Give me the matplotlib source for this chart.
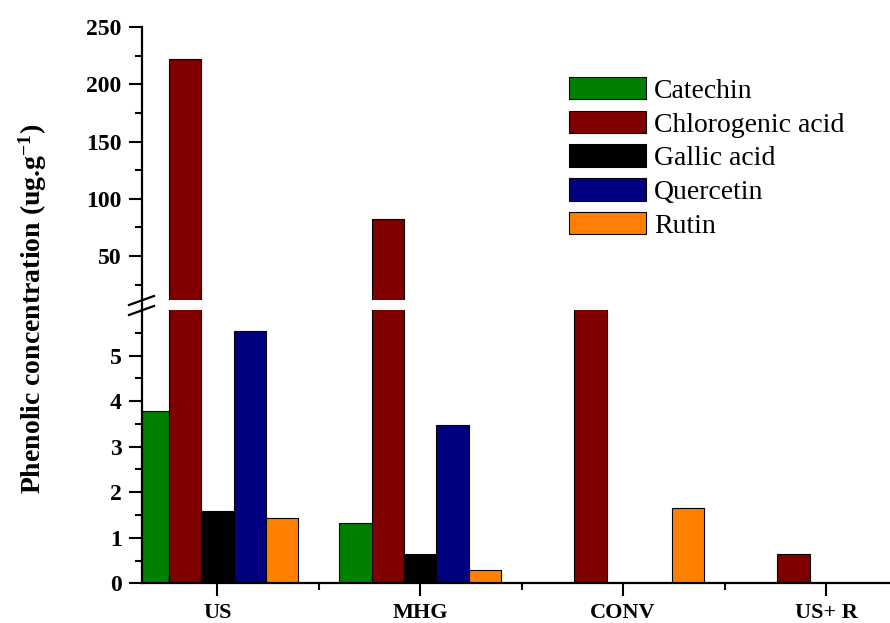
import matplotlib
matplotlib.use("Agg")
import matplotlib.pyplot as plt
import numpy as np
from matplotlib.lines import Line2D

categories = ["US", "MHG", "CONV", "US+ R"]
series_names = ["Catechin", "Chlorogenic acid", "Gallic acid", "Quercetin", "Rutin"]
catechin = [3.79, 1.33, 0.0, 0.0]
chlorogenic = [222.5, 82.0, 8.0, 0.64]
gallic = [1.59, 0.64, 0.0, 0.0]
quercetin = [5.54, 3.48, 0.0, 0.0]
rutin = [1.44, 0.29, 1.65, 0.0]
colors = ["#008000", "#800000", "#000000", "#000080", "#FF8000"]

series = [catechin, chlorogenic, gallic, quercetin, rutin]

plt.rcParams['font.family'] = ['Liberation Serif', 'DejaVu Serif']
plt.rcParams['mathtext.fontset'] = 'custom'
plt.rcParams['mathtext.rm'] = 'Liberation Serif'
plt.rcParams['mathtext.bf'] = 'Liberation Serif:bold'
plt.rcParams['mathtext.default'] = 'regular'

W, H = 890, 623
fig = plt.figure(figsize=(W / 100, H / 100), dpi=100)

def fx(px):
    return px / W

def fy(py):
    return 1 - py / H

x_left, x_right = 141.7, 890
ax_lo = fig.add_axes([fx(x_left), fy(583.3), fx(x_right - x_left), fy(310) - fy(583.3)])
ax_hi = fig.add_axes([fx(x_left), fy(300), fx(x_right - x_left), fy(27) - fy(300)])

x = np.arange(len(categories))
bw = 0.16
for i, (name, vals, c) in enumerate(zip(series_names, series, colors)):
    offs = (i - 2) * bw
    for ax in (ax_lo, ax_hi):
        ax.bar(x + offs, vals, width=bw, color=c, edgecolor="black", linewidth=0.8,
               label=name if ax is ax_hi else None)

for ax in (ax_lo, ax_hi):
    ax.set_xlim(-0.3726, 3.315)
    for s in ("top", "right"):
        ax.spines[s].set_visible(False)
    ax.spines["left"].set_linewidth(1.6)
    ax.spines["bottom"].set_linewidth(1.6)
    ax.tick_params(axis="both", which="major", direction="out", length=9.4, width=1.5,
                   labelsize=17, pad=5)
    ax.tick_params(axis="both", which="minor", direction="out", length=4.8, width=1.5)

# lower axis
ax_lo.set_ylim(0, 6)
ax_lo.set_yticks([0, 1, 2, 3, 4, 5])
ax_lo.set_yticks(np.arange(0.5, 6.0, 0.5), minor=True)
ax_lo.set_xticks(x)
ax_lo.set_xticklabels(categories)
ax_lo.set_xticks([0.5, 1.5, 2.5], minor=True)
ax_lo.tick_params(axis="x", which="major", pad=4.5, labelsize=16)

# upper axis
ax_hi.set_ylim(11.7, 250)
ax_hi.set_yticks([50, 100, 150, 200, 250])
ax_hi.set_yticks([25, 75, 125, 175, 225], minor=True)
ax_hi.spines["bottom"].set_visible(False)
ax_hi.set_xticks([])
ax_hi.tick_params(axis="x", which="both", length=0)

for ax in (ax_lo, ax_hi):
    for lab in ax.get_xticklabels() + ax.get_yticklabels():
        lab.set_fontweight("bold")

# connect spine across break and draw break marks
fig.add_artist(Line2D([fx(x_left), fx(x_left)], [fy(300), fy(310)], color="black",
                      linewidth=1.6, transform=fig.transFigure))
for yb in (301, 311):
    fig.add_artist(Line2D([fx(129), fx(154)], [fy(yb + 4), fy(yb - 5)], color="black",
                          linewidth=1.6, transform=fig.transFigure))

# y label
fig.text(fx(33), fy(308.5), r"Phenolic concentration (ug.g$^{-1}$)", rotation=90,
         ha="center", va="center", fontsize=20, fontweight="bold")

# legend
leg = ax_hi.legend(loc="upper left", bbox_to_anchor=(fx(569), fy(77)),
                   bbox_transform=fig.transFigure, frameon=False, fontsize=20,
                   handlelength=2.77, handleheight=0.86, handletextpad=0.3,
                   labelspacing=0.25, borderpad=0, borderaxespad=0)

fig.savefig("out.png", dpi=100)
